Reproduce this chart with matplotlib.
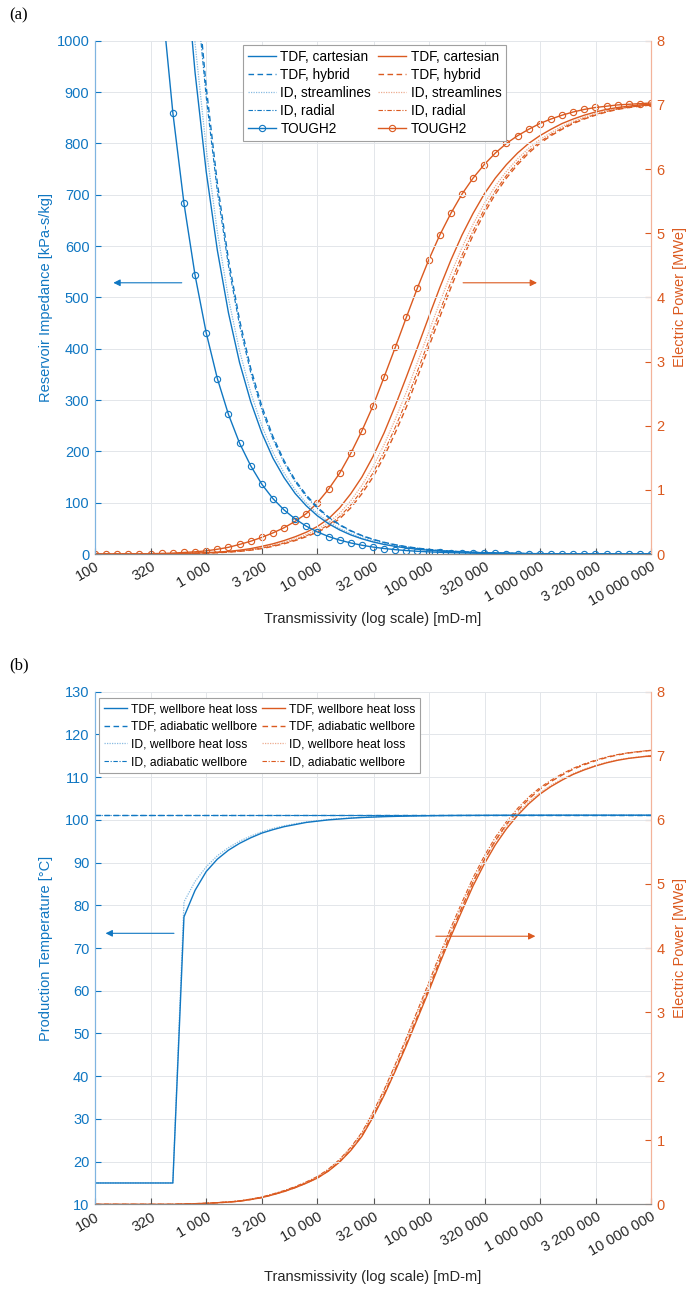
import numpy as np
import matplotlib.pyplot as plt
from matplotlib.lines import Line2D

plt.rcParams['font.family'] = ['Liberation Sans', 'DejaVu Sans']

BLUE = '#1077C2'
ORANGE = '#DB5A20'
GRID = '#e3e6ea'

# --- data, sampled every 0.1 decade from 100 to 10 000 000 mD-m ---
transmissivity = [100, 126, 158, 200, 251, 316, 398, 501, 631, 794,
                  1000, 1259, 1585, 1995, 2512, 3162, 3981, 5012, 6310, 7943,
                  10000, 12589, 15849, 19953, 25119, 31623, 39811, 50119, 63096, 79433,
                  100000, 125893, 158489, 199526, 251189, 316228, 398107, 501187, 630957, 794328,
                  1000000, 1258925, 1584893, 1995262, 2511886, 3162278, 3981072, 5011872, 6309573, 7943282,
                  10000000]

x_ticks = [100, 320, 1000, 3200, 10000, 32000, 100000, 320000, 1000000, 3200000, 10000000]
x_ticklabels = ['100', '320', '1 000', '3 200', '10 000', '32 000', '100 000', '320 000',
                '1 000 000', '3 200 000', '10 000 000']

# (a) reservoir impedance [kPa-s/kg]
imp_tdf_cart = [7450, 5918, 4701, 3734, 2966, 2356, 1871, 1486, 1181, 938,
                745, 592, 470, 373, 297, 236, 187, 149, 118, 94,
                74.5, 59.2, 47.0, 37.3, 29.7, 23.6, 18.7, 14.9, 11.8, 9.4,
                7.5, 5.9, 4.7, 3.7, 3.0, 2.4, 1.9, 1.5, 1.2, 0.9,
                0.7, 0.6, 0.5, 0.4, 0.3, 0.2, 0.2, 0.1, 0.1, 0.1, 0.1]
imp_tdf_hybrid = [9100, 7228, 5742, 4561, 3623, 2877, 2286, 1815, 1442, 1146,
                  910, 723, 574, 456, 362, 288, 229, 182, 144, 115,
                  91.0, 72.3, 57.4, 45.6, 36.2, 28.8, 22.9, 18.2, 14.4, 11.5,
                  9.1, 7.2, 5.7, 4.6, 3.6, 2.9, 2.3, 1.8, 1.4, 1.1,
                  0.9, 0.7, 0.6, 0.5, 0.4, 0.3, 0.23, 0.18, 0.14, 0.11, 0.09]
imp_id_stream = [7900, 6275, 4985, 3959, 3145, 2498, 1984, 1576, 1252, 995,
                 790, 628, 498, 396, 315, 250, 198, 158, 125, 99.5,
                 79.0, 62.8, 49.8, 39.6, 31.5, 25.0, 19.8, 15.8, 12.5, 9.9,
                 7.9, 6.3, 5.0, 4.0, 3.1, 2.5, 2.0, 1.6, 1.3, 1.0,
                 0.8, 0.6, 0.5, 0.4, 0.3, 0.25, 0.2, 0.16, 0.13, 0.1, 0.08]
imp_id_radial = [8900, 7069, 5616, 4461, 3543, 2814, 2236, 1776, 1411, 1120,
                 890, 707, 562, 446, 354, 281, 224, 178, 141, 112,
                 89.0, 70.7, 56.2, 44.6, 35.4, 28.1, 22.4, 17.8, 14.1, 11.2,
                 8.9, 7.1, 5.6, 4.5, 3.5, 2.8, 2.2, 1.8, 1.4, 1.1,
                 0.9, 0.7, 0.6, 0.4, 0.4, 0.3, 0.22, 0.18, 0.14, 0.11, 0.09]
imp_tough2 = [4310, 3423, 2720, 2160, 1716, 1363, 1083, 860, 683, 543,
              431, 342, 272, 216, 172, 136, 108, 86, 68.3, 54.3,
              43.1, 34.2, 27.2, 21.6, 17.2, 13.6, 10.8, 8.6, 6.8, 5.4,
              4.3, 3.4, 2.7, 2.2, 1.7, 1.4, 1.1, 0.9, 0.7, 0.5,
              0.4, 0.3, 0.3, 0.2, 0.2, 0.1, 0.1, 0.1, 0.1, 0.1, 0.0]

# (a) electric power [MWe]
pow_tdf_cart = [0, 0, 0, 0, 0, 0, 0, 0.005, 0.01, 0.015,
                0.022, 0.03, 0.042, 0.06, 0.085, 0.12, 0.16, 0.21, 0.27, 0.34,
                0.43, 0.55, 0.72, 0.94, 1.20, 1.52, 1.89, 2.31, 2.76, 3.22,
                3.69, 4.15, 4.58, 4.97, 5.31, 5.61, 5.86, 6.07, 6.25, 6.40,
                6.52, 6.62, 6.71, 6.78, 6.84, 6.89, 6.93, 6.96, 6.98, 7.00, 7.01]
pow_tdf_hybrid = [0, 0, 0, 0, 0, 0, 0, 0, 0.005, 0.01,
                  0.014, 0.02, 0.03, 0.042, 0.06, 0.085, 0.12, 0.16, 0.21, 0.27,
                  0.34, 0.43, 0.55, 0.72, 0.94, 1.20, 1.52, 1.89, 2.29, 2.76,
                  3.22, 3.69, 4.15, 4.58, 4.97, 5.31, 5.61, 5.86, 6.07, 6.25,
                  6.40, 6.52, 6.62, 6.71, 6.78, 6.84, 6.89, 6.93, 6.96, 6.98, 7.00]
pow_id_stream = [0, 0, 0, 0, 0, 0, 0, 0.003, 0.008, 0.013,
                 0.018, 0.025, 0.036, 0.05, 0.073, 0.103, 0.14, 0.185, 0.24, 0.305,
                 0.385, 0.49, 0.635, 0.83, 1.07, 1.36, 1.705, 2.10, 2.525, 2.99,
                 3.455, 3.92, 4.365, 4.775, 5.14, 5.46, 5.735, 5.965, 6.16, 6.325,
                 6.46, 6.57, 6.665, 6.745, 6.81, 6.865, 6.91, 6.945, 6.97, 6.99, 7.005]
pow_id_radial = [0, 0, 0, 0, 0, 0, 0, 0.001, 0.006, 0.011,
                 0.016, 0.022, 0.032, 0.046, 0.065, 0.092, 0.128, 0.17, 0.222, 0.284,
                 0.358, 0.454, 0.584, 0.764, 0.992, 1.264, 1.594, 1.974, 2.384, 2.852,
                 3.314, 3.782, 4.236, 4.658, 5.038, 5.37, 5.66, 5.902, 6.106, 6.28,
                 6.424, 6.54, 6.638, 6.724, 6.792, 6.85, 6.898, 6.936, 6.964, 6.984, 7.002]
pow_tough2 = [0, 0, 0, 0, 0, 0.005, 0.01, 0.015, 0.025, 0.035,
              0.05, 0.075, 0.105, 0.15, 0.20, 0.26, 0.33, 0.41, 0.51, 0.63,
              0.80, 1.01, 1.26, 1.57, 1.92, 2.31, 2.76, 3.22, 3.69, 4.15,
              4.58, 4.97, 5.31, 5.61, 5.86, 6.07, 6.25, 6.40, 6.52, 6.62,
              6.71, 6.78, 6.84, 6.89, 6.93, 6.96, 6.98, 7.00, 7.01, 7.02, 7.03]

# (b) production temperature [degC]
temp_tdf_loss = [15, 15, 15, 15, 15, 15, 15, 15, 77.3, 83.5,
                 87.9, 90.8, 92.9, 94.5, 95.8, 96.9, 97.7, 98.4, 98.9, 99.4,
                 99.7, 100.0, 100.2, 100.4, 100.55, 100.65, 100.75, 100.82, 100.88, 100.93,
                 100.97, 101.0, 101.02, 101.04, 101.05, 101.06, 101.07, 101.08, 101.08, 101.09,
                 101.09, 101.1, 101.1, 101.1, 101.1, 101.1, 101.1, 101.1, 101.1, 101.1, 101.1]
temp_id_loss = [15, 15, 15, 15, 15, 15, 15, 15, 80.8, 85.6,
                89.0, 91.6, 93.5, 95.0, 96.2, 97.2, 98.0, 98.6, 99.1, 99.5,
                99.8, 100.1, 100.3, 100.45, 100.6, 100.7, 100.8, 100.85, 100.9, 100.95,
                100.98, 101.0, 101.02, 101.04, 101.05, 101.06, 101.07, 101.08, 101.08, 101.09,
                101.09, 101.1, 101.1, 101.1, 101.1, 101.1, 101.1, 101.1, 101.1, 101.1, 101.1]
temp_tdf_adia = [101.1] * 51
temp_id_adia = [101.15] * 51

# (b) electric power [MWe]
powb_tdf_loss = [0, 0, 0, 0, 0, 0, 0, 0, 0.005, 0.01,
                 0.015, 0.025, 0.035, 0.05, 0.075, 0.105, 0.15, 0.20, 0.26, 0.33,
                 0.41, 0.52, 0.66, 0.84, 1.06, 1.36, 1.70, 2.08, 2.48, 2.90,
                 3.32, 3.76, 4.18, 4.58, 4.97, 5.31, 5.61, 5.86, 6.07, 6.25,
                 6.40, 6.52, 6.62, 6.71, 6.78, 6.84, 6.89, 6.93, 6.96, 6.98, 7.00]
powb_tdf_adia = [0, 0, 0, 0, 0, 0, 0, 0, 0.005, 0.01,
                 0.015, 0.025, 0.035, 0.05, 0.076, 0.106, 0.152, 0.202, 0.263, 0.334,
                 0.415, 0.526, 0.668, 0.85, 1.072, 1.375, 1.719, 2.103, 2.508, 2.933,
                 3.359, 3.804, 4.23, 4.635, 5.03, 5.374, 5.677, 5.93, 6.143, 6.325,
                 6.477, 6.598, 6.699, 6.79, 6.861, 6.922, 6.973, 7.013, 7.044, 7.064, 7.084]
powb_id_loss = [0, 0, 0, 0, 0, 0, 0, 0.001, 0.006, 0.011,
                0.017, 0.027, 0.038, 0.055, 0.081, 0.114, 0.16, 0.212, 0.274, 0.346,
                0.43, 0.545, 0.694, 0.88, 1.11, 1.422, 1.77, 2.16, 2.57, 2.992,
                3.414, 3.852, 4.266, 4.658, 5.038, 5.37, 5.66, 5.902, 6.106, 6.28,
                6.424, 6.54, 6.638, 6.724, 6.792, 6.85, 6.898, 6.936, 6.964, 6.984, 7.002]
powb_id_adia = [0, 0, 0, 0, 0, 0, 0, 0.001, 0.006, 0.011,
                0.017, 0.027, 0.038, 0.056, 0.082, 0.115, 0.162, 0.215, 0.277, 0.35,
                0.435, 0.551, 0.702, 0.89, 1.123, 1.438, 1.79, 2.184, 2.599, 3.026,
                3.454, 3.897, 4.317, 4.714, 5.098, 5.434, 5.728, 5.973, 6.179, 6.355,
                6.501, 6.618, 6.718, 6.805, 6.874, 6.932, 6.981, 7.019, 7.048, 7.068, 7.086]

# line styles shared by both panels
SOLID = '-'
DASHED = (0, (4, 2.5))
DOTTED = (0, (1, 1))
DASHDOT = (0, (4, 1.5, 1, 1.5))


def style_axes(ax, ax2, ylabel, ylim, yticks):
    ax.set_xscale('log')
    ax.set_xlim(100, 1e7)
    ax.set_xticks(x_ticks)
    ax.set_xticklabels(x_ticklabels, rotation=30, ha='right', va='top',
                       rotation_mode='anchor', fontsize=10.5, color='#262626')
    ax.xaxis.set_minor_locator(plt.NullLocator())
    ax.tick_params(axis='x', which='major', direction='in', length=4, color='#555555', pad=4)
    ax.set_ylim(*ylim)
    ax.set_yticks(yticks)
    ax.tick_params(axis='y', direction='in', length=4, colors=BLUE, labelsize=10.5, pad=4)
    ax.set_ylabel(ylabel, color=BLUE, fontsize=10.5)
    ax.yaxis.set_label_coords(-0.076, 0.5)
    ax.grid(True, color=GRID, lw=0.7)
    ax.set_axisbelow(True)

    ax2.set_ylim(0, 8)
    ax2.set_yticks(range(0, 9))
    ax2.tick_params(axis='y', direction='in', length=4, colors=ORANGE, labelsize=10.5, pad=4)
    ax2.set_ylabel('Electric Power [MWe]', color=ORANGE, fontsize=10.5)
    ax2.yaxis.set_label_coords(1.040, 0.5)

    for a in (ax, ax2):
        a.spines['top'].set_visible(False)
        a.spines['left'].set_color('#7fb4e0')
        a.spines['right'].set_color('#f3b39a')
        a.spines['bottom'].set_color('#8a8a8a')
        for s in a.spines.values():
            s.set_linewidth(0.8)


fig = plt.figure(figsize=(6.87, 12.90), dpi=100)

# ---------------- panel (a) ----------------
ax = fig.add_axes([0.1383, 0.5705, 0.8093, 0.3979])
ax2 = ax.twinx()
ax.set_zorder(ax2.get_zorder() + 1)
ax.patch.set_visible(False)

ax.plot(transmissivity, imp_tdf_cart, color=BLUE, ls=SOLID, lw=1.0)
ax.plot(transmissivity, imp_tdf_hybrid, color=BLUE, ls=DASHED, lw=1.0)
ax.plot(transmissivity, imp_id_stream, color=BLUE, ls=DOTTED, lw=0.9, alpha=0.5)
ax.plot(transmissivity, imp_id_radial, color=BLUE, ls=DASHDOT, lw=0.8)
ax.plot(transmissivity, imp_tough2, color=BLUE, ls=SOLID, lw=1.0, marker='o',
        ms=4.5, mfc='none', mew=0.8)

ax2.plot(transmissivity, pow_tdf_cart, color=ORANGE, ls=SOLID, lw=1.0)
ax2.plot(transmissivity, pow_tdf_hybrid, color=ORANGE, ls=DASHED, lw=1.0)
ax2.plot(transmissivity, pow_id_stream, color=ORANGE, ls=DOTTED, lw=0.9, alpha=0.5)
ax2.plot(transmissivity, pow_id_radial, color=ORANGE, ls=DASHDOT, lw=0.8)
ax2.plot(transmissivity, pow_tough2, color=ORANGE, ls=SOLID, lw=1.0, marker='o',
         ms=4.5, mfc='none', mew=0.8)

style_axes(ax, ax2, 'Reservoir Impedance [kPa-s/kg]', (0, 1000), range(0, 1001, 100))
ax.set_xlabel('Transmissivity (log scale) [mD-m]', fontsize=10.5, color='#262626')
ax.xaxis.set_label_coords(0.5, -0.113)

names_a = ['TDF, cartesian', 'TDF, hybrid', 'ID, streamlines', 'ID, radial', 'TOUGH2']
styles_a = [(SOLID, 1.0, 1.0, None), (DASHED, 1.0, 1.0, None), (DOTTED, 0.9, 0.5, None),
            (DASHDOT, 0.8, 1.0, None), (SOLID, 1.0, 1.0, 'o')]
handles = []
for col in (BLUE, ORANGE):
    for ls, lw, al, mk in styles_a:
        handles.append(Line2D([], [], color=col, ls=ls, lw=lw, alpha=al, marker=mk,
                              ms=4.5, mfc='none', mew=0.8))
leg = ax.legend(handles, names_a + names_a, ncol=2, loc='upper left',
                bbox_to_anchor=(0.266, 0.992), borderaxespad=0, fontsize=9.8,
                frameon=True, fancybox=False, framealpha=1, edgecolor='#a0a0a0',
                handlelength=2.1, handletextpad=0.3, columnspacing=0.5,
                labelspacing=0.3, borderpad=0.35)
leg.get_frame().set_linewidth(0.8)

ax.annotate('', xy=(0.028, 0.5285), xytext=(0.161, 0.5285), xycoords='axes fraction',
            arrowprops=dict(arrowstyle='-|>', color=BLUE, lw=0.8, mutation_scale=10))
ax.annotate('', xy=(0.800, 0.5285), xytext=(0.657, 0.5285), xycoords='axes fraction',
            arrowprops=dict(arrowstyle='-|>', color=ORANGE, lw=0.8, mutation_scale=10))

fig.text(0.014, 0.988, '(a)', family=['Liberation Serif', 'DejaVu Serif'],
         fontsize=12, va='center', ha='left')

# ---------------- panel (b) ----------------
bx = fig.add_axes([0.1383, 0.0664, 0.8093, 0.3974])
bx2 = bx.twinx()
bx.set_zorder(bx2.get_zorder() + 1)
bx.patch.set_visible(False)

bx.plot(transmissivity, temp_tdf_loss, color=BLUE, ls=SOLID, lw=1.0)
bx.plot(transmissivity, temp_tdf_adia, color=BLUE, ls=DASHED, lw=1.0)
bx.plot(transmissivity, temp_id_loss, color=BLUE, ls=DOTTED, lw=0.9, alpha=0.5)
bx.plot(transmissivity, temp_id_adia, color=BLUE, ls=DASHDOT, lw=0.8)

bx2.plot(transmissivity, powb_tdf_loss, color=ORANGE, ls=SOLID, lw=1.0)
bx2.plot(transmissivity, powb_tdf_adia, color=ORANGE, ls=DASHED, lw=1.0)
bx2.plot(transmissivity, powb_id_loss, color=ORANGE, ls=DOTTED, lw=0.9, alpha=0.5)
bx2.plot(transmissivity, powb_id_adia, color=ORANGE, ls=DASHDOT, lw=0.8)

style_axes(bx, bx2, 'Production Temperature [°C]', (10, 130), range(10, 131, 10))
bx.set_xlabel('Transmissivity (log scale) [mD-m]', fontsize=10.5, color='#262626')
bx.xaxis.set_label_coords(0.5, -0.129)

names_b = ['TDF, wellbore heat loss', 'TDF, adiabatic wellbore',
           'ID, wellbore heat loss', 'ID, adiabatic wellbore']
handles_b = []
for col in (BLUE, ORANGE):
    for ls, lw, al, mk in styles_a[:4]:
        handles_b.append(Line2D([], [], color=col, ls=ls, lw=lw, alpha=al))
legb = bx.legend(handles_b, names_b + names_b, ncol=2, loc='upper left',
                 bbox_to_anchor=(0.008, 0.987), borderaxespad=0, fontsize=8.7,
                 frameon=True, fancybox=False, framealpha=1, edgecolor='#a0a0a0',
                 handlelength=1.9, handletextpad=0.3, columnspacing=0.4,
                 labelspacing=0.47, borderpad=0.4)
legb.get_frame().set_linewidth(0.8)

bx.annotate('', xy=(0.014, 0.5287), xytext=(0.147, 0.5287), xycoords='axes fraction',
            arrowprops=dict(arrowstyle='-|>', color=BLUE, lw=0.8, mutation_scale=10))
bx.annotate('', xy=(0.797, 0.523), xytext=(0.608, 0.523), xycoords='axes fraction',
            arrowprops=dict(arrowstyle='-|>', color=ORANGE, lw=0.8, mutation_scale=10))

fig.text(0.014, 0.484, '(b)', family=['Liberation Serif', 'DejaVu Serif'],
         fontsize=12, va='center', ha='left')

fig.savefig('out.png', dpi=100)
